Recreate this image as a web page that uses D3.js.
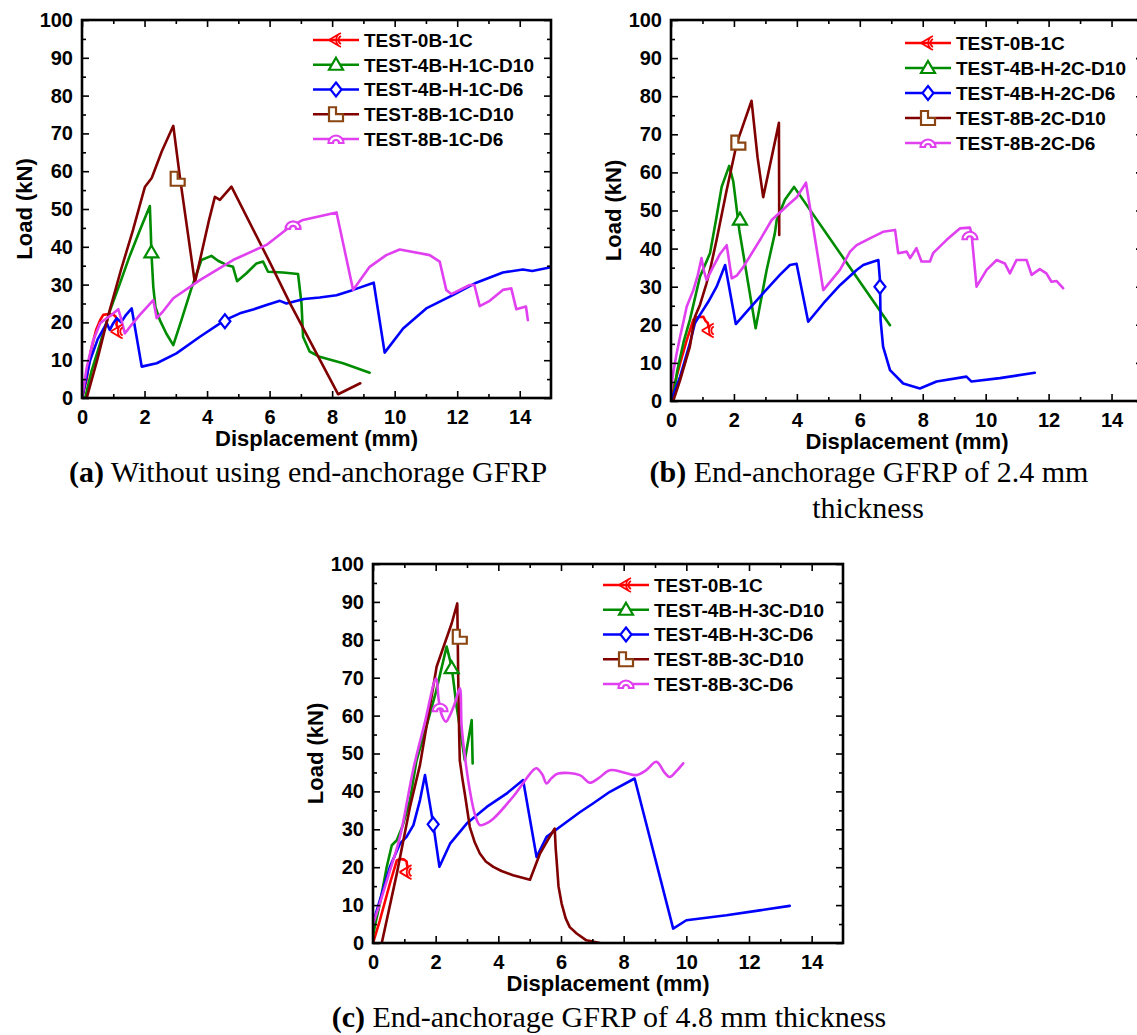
<!DOCTYPE html>
<html><head><meta charset="utf-8">
<script src="https://cdn.jsdelivr.net/npm/d3@7"></script>
<style>
body{margin:0;background:#fff}
svg{display:block}
text.sans{font-family:"Liberation Sans",Arial,sans-serif}
text.serif{font-family:"Liberation Serif","Times New Roman",serif}
</style>
</head><body>
<svg id="chart" width="1137" height="1035"></svg>
<script>
// ---------------- DATA ----------------
const xTicks = [0,2,4,6,8,10,12,14];
const xMinor = [1,3,5,7,9,11,13];
const yTicks = [0,10,20,30,40,50,60,70,80,90,100];
const yMinor = [5,15,25,35,45,55,65,75,85,95];

const namesA = ["TEST-0B-1C","TEST-4B-H-1C-D10","TEST-4B-H-1C-D6","TEST-8B-1C-D10","TEST-8B-1C-D6"];
const namesB = ["TEST-0B-1C","TEST-4B-H-2C-D10","TEST-4B-H-2C-D6","TEST-8B-2C-D10","TEST-8B-2C-D6"];
const namesC = ["TEST-0B-1C","TEST-4B-H-3C-D10","TEST-4B-H-3C-D6","TEST-8B-3C-D10","TEST-8B-3C-D6"];

// Panel (a): [displacement mm, load kN]
const a_0B = [[0,0],[0.15,5],[0.27,12],[0.45,18],[0.58,20.6],[0.68,22],[0.85,22.2],[1.0,22.1],[1.08,21.5],[1.12,20.5],[1.1,19.5],[1.14,18.6]];
const a_4BD10 = [[0.1,0],[0.3,7],[0.6,15],[0.89,23],[1.2,30],[1.5,37],[1.85,44.4],[2.17,50.8],[2.2,44],[2.22,38.5],[2.28,29.4],[2.35,24],[2.49,20.6],[2.7,17],[2.92,14.0],[3.18,20.6],[3.5,29],[3.82,36.5],[4.14,37.6],[4.35,36.3],[4.62,35.2],[4.83,34.7],[4.96,30.9],[5.26,33.0],[5.58,35.6],[5.79,36.1],[5.95,33.4],[6.43,33.2],[6.91,32.8],[7.02,25],[7.07,16.2],[7.28,12.3],[7.6,10.9],[8.35,9.2],[9.2,6.7]];
const a_4BD6 = [[0,0],[0.26,10],[0.5,15.5],[0.79,19.8],[0.89,18],[1.0,19.8],[1.11,21.1],[1.25,20],[1.41,22],[1.59,23.7],[1.75,16],[1.91,8.3],[2.39,9.2],[3.02,11.8],[3.77,16.2],[4.57,20.6],[5.05,22.4],[5.5,23.5],[5.9,24.6],[6.33,25.7],[6.54,25.0],[7.1,26.2],[7.6,26.6],[8.14,27.2],[8.67,28.6],[9.33,30.5],[9.68,12.0],[10.27,18.4],[11.01,23.7],[11.86,27.2],[12.61,30.5],[13.46,33.2],[14.1,34.0],[14.4,33.6],[15.0,34.6]];
const a_8BD10 = [[0.15,0],[0.5,10.5],[0.89,23.3],[1.25,34],[1.63,44.4],[1.85,51],[2.01,55.8],[2.23,58.2],[2.55,65.2],[2.92,72.0],[3.13,58.5],[3.61,30.5],[4.06,47],[4.25,53.2],[4.41,52.4],[4.78,55.9],[6.0,36],[6.65,25.1],[8.19,1.0],[8.9,3.9]];
const a_8BD6 = [[0,0],[0.15,8],[0.35,15],[0.58,19.8],[0.79,21.1],[0.95,22],[1.16,23.5],[1.25,21],[1.37,17.1],[1.6,19.5],[1.85,22],[2.28,25.9],[2.39,21.1],[2.6,23],[2.92,26.4],[3.77,31.2],[4.83,36.5],[5.9,40.5],[6.65,45.3],[7.07,47.1],[8.14,49.1],[8.67,28.6],[9.2,34.7],[9.73,37.8],[10.16,39.3],[11.12,37.8],[11.44,36.1],[11.65,28.6],[11.81,27.5],[12.4,29.9],[12.55,29.9],[12.72,24.3],[13.04,25.7],[13.46,28.6],[13.73,29.0],[13.89,23.5],[14.2,24.2],[14.26,20.6]];
const marksA = [[1.14,17.6],[2.22,38.5],[4.57,20.3],[3.06,58],[6.75,45.8]];

// Panel (b)
const b_0B = [[0,0],[0.1,4],[0.29,9.9],[0.5,16],[0.71,21.3],[0.81,22],[1.03,22.1],[1.1,21],[1.17,20.5],[1.2,19.2]];
const b_4BD10 = [[0.05,0],[0.2,8],[0.4,15.5],[0.6,21.3],[0.92,32.6],[1.24,38.8],[1.43,47.5],[1.61,56.2],[1.85,61.7],[1.98,57.6],[2.17,44.9],[2.69,19.1],[3.04,34.4],[3.3,44],[3.36,47.5],[3.62,52.8],[3.91,56.2],[6.96,19.9]];
const b_4BD6 = [[0,0],[0.29,6.4],[0.6,15.1],[0.76,20.4],[0.92,22.6],[1.19,26.1],[1.45,30],[1.72,35.7],[2.06,20.2],[2.4,23.4],[2.93,28.3],[3.46,33.1],[3.78,35.7],[3.99,36],[4.36,20.8],[4.84,25.6],[5.37,30.4],[5.9,34.4],[6.11,35.7],[6.32,36.3],[6.59,37.0],[6.64,31.8],[6.66,21.3],[6.74,14.3],[6.96,8.1],[7.38,4.6],[7.91,3.3],[8.44,5.1],[9.39,6.4],[9.55,5.1],[10.45,6],[11.56,7.4]];
const b_8BD10 = [[0.07,0],[0.29,5.5],[0.6,14.3],[0.76,22.1],[0.92,25.2],[1.13,30.9],[1.24,34.4],[1.45,42.3],[1.77,55.4],[2.09,67.6],[2.56,78.8],[2.75,64],[2.93,53.5],[3.43,73],[3.44,43.6]];
const b_8BD6 = [[0,3],[0.08,8],[0.18,12.5],[0.29,16.9],[0.4,21],[0.5,24.8],[0.71,29.1],[0.85,33],[0.97,37.5],[1.05,34],[1.13,31.8],[1.34,35.2],[1.55,38.5],[1.77,40.9],[1.93,32.2],[2.1,33],[2.3,35.2],[2.83,42.3],[3.2,47.5],[3.78,51.9],[4.0,53.5],[4.29,57.3],[4.84,29.1],[5.37,34.4],[5.69,39.2],[5.9,40.9],[6.32,42.7],[6.74,44.4],[7.12,44.9],[7.22,38.8],[7.49,39.2],[7.6,37.5],[7.8,40.1],[7.96,36.6],[8.23,36.6],[8.33,38.8],[8.76,42.3],[9.18,45.3],[9.5,45.5],[9.55,44],[9.71,30],[10.03,34.4],[10.35,37.0],[10.61,36.1],[10.77,33.5],[10.98,37.0],[11.3,37.0],[11.46,33.1],[11.72,34.6],[11.93,33.5],[12.09,31.3],[12.25,31.5],[12.46,29.6]];
const marksB = [[1.2,18.5],[2.19,47.6],[6.64,30.0],[2.14,67.8],[9.5,43.5]];

// Panel (c)
const c_0B = [[0,0],[0.22,6],[0.54,15.7],[0.76,21.8],[0.86,22.2],[1.0,22],[1.07,21.5],[1.1,20]];
const c_4BD10 = [[0,2],[0.1,6],[0.22,10.4],[0.44,20.1],[0.6,25.8],[0.76,27.1],[0.95,31],[1.18,37.7],[1.39,48.2],[1.7,57],[2.0,66],[2.35,78.2],[2.51,72.9],[2.67,62.3],[2.93,48.2],[3.15,58.8],[3.18,47.4]];
const c_4BD6 = [[0,5],[0.1,8],[0.22,11.3],[0.54,20.1],[0.86,26.2],[1.07,28],[1.29,31.1],[1.5,37.7],[1.66,44.3],[1.92,31.5],[2.12,20.1],[2.46,26.2],[2.99,31.5],[3.63,35.9],[4.26,39.4],[4.79,43],[5.22,22.7],[5.54,28],[5.96,30.6],[6.6,34.5],[7.02,36.8],[7.56,39.9],[8.35,43.4],[9.58,3.8],[10.0,6.0],[11.28,7.3],[12.34,8.6],[13.3,9.8]];
const c_8BD10 = [[0.28,0],[0.76,18.3],[1.18,35.9],[1.5,47],[2.03,72.9],[2.51,84.3],[2.69,89.6],[2.72,70],[2.75,55],[2.77,48.2],[2.85,43.5],[2.93,39.4],[3.09,30.6],[3.25,26.5],[3.41,23.6],[3.6,21.5],[3.84,20.1],[4.1,19],[4.47,17.9],[5.01,16.7],[5.33,23.6],[5.6,27.5],[5.8,30.2],[5.83,25],[5.86,21.8],[5.92,15],[6.02,10.4],[6.15,6.5],[6.28,4.2],[6.5,2.5],[6.81,0.7],[7.24,0]];
const c_8BD6 = [[0,5],[0.2,10],[0.5,18],[0.86,28],[1.29,46],[1.65,58],[2.01,69.8],[2.1,64],[2.2,60],[2.33,58.4],[2.45,60],[2.61,63.2],[2.77,67.2],[2.83,57],[2.99,45.6],[3.09,40.3],[3.25,34],[3.41,31.1],[3.6,31.5],[3.84,32.8],[4.47,38.6],[5.11,45.6],[5.22,46.1],[5.4,44.5],[5.54,42.1],[5.7,43.5],[5.91,44.7],[6.6,44.3],[6.92,42.3],[7.2,43.5],[7.56,45.6],[8.0,45],[8.41,44.3],[8.7,45.5],[9.05,47.8],[9.3,45],[9.47,43.8],[9.7,45.5],[9.9,47.4]];
const marksC = [[1.07,18.7],[2.51,72.5],[1.92,31.3],[2.77,80.8],[2.14,62.2]];

const captionA = ["(a)"," Without using end-anchorage GFRP"];
const captionB1 = ["(b)"," End-anchorage GFRP of 2.4 mm"];
const captionB2 = "thickness";
const captionC = ["(c)"," End-anchorage GFRP of 4.8 mm thickness"];

// ---------------- STYLE ----------------
const lineColors = ["#FF0000","#008C00","#0000FF","#800000","#E040F0"];
const markColors = ["#FF0000","#008C00","#0000FF","#8B4513","#E040F0"];

const svg = d3.select("#chart");

function markerPath(t){
  switch(t){
    case 0: return "M5,-7 A7.5,7.5 0 0,0 5,7 M5,-4 A4.5,4.5 0 0,0 5,4 M-7,0 L3,-6 M-7,0 L3,6";
    case 1: return "M0,-7 L7,5 L-7,5 Z";
    case 2: return "M0,-7 L5.5,0 L0,7 L-5.5,0 Z";
    case 3: return "M-7,-7 L0,-7 L0,0 L7,0 L7,7 L-7,7 Z";
    case 4: return "M-7.5,4 A7.5,7.5 0 0,1 7.5,4 L3,4 A3,3 0 0,0 -3,4 Z";
  }
}
function drawMarker(g, t, x, y){
  g.append("path").attr("d", markerPath(t))
    .attr("transform", `translate(${x},${y})`)
    .attr("fill", t===0 ? "none" : "#fff")
    .attr("stroke", markColors[t]).attr("stroke-width", t===0?1.8:2.2)
    .attr("stroke-linejoin","miter");
}

function panel(cfg){
  const x = d3.scaleLinear().domain([0,15]).range([cfg.left, cfg.right]);
  const y = d3.scaleLinear().domain([0,100]).range([cfg.bottom, cfg.top]);
  const g = svg.append("g");
  const id = "clip"+cfg.key;
  svg.append("defs").append("clipPath").attr("id", id).append("rect")
    .attr("x", cfg.left).attr("y", cfg.top).attr("width", cfg.right-cfg.left).attr("height", cfg.bottom-cfg.top);

  const dg = g.append("g").attr("clip-path", `url(#${id})`);
  cfg.series.forEach((s,i)=>{
    const line = d3.line().x(d=>x(d[0])).y(d=>y(d[1]))
      .curve(cfg.smooth && cfg.smooth[i] ? d3.curveCatmullRom.alpha(0.5) : d3.curveLinear);
    dg.append("path").datum(s).attr("d", line)
      .attr("fill","none").attr("stroke", lineColors[i]).attr("stroke-width",2.6)
      .attr("stroke-linejoin","round").attr("stroke-linecap","round");
  });
  cfg.marks.forEach((m,i)=> drawMarker(dg, i, x(m[0]), y(m[1])));

  const styleAxis = sel => { sel.select(".domain").remove(); sel.selectAll("line").attr("stroke","#000").attr("stroke-width",1.6); };
  const fontAxis = sel => sel.selectAll("text").attr("class","sans").attr("font-size",20).attr("font-weight","bold").attr("fill","#000");
  g.append("g").attr("transform",`translate(0,${cfg.bottom})`)
    .call(d3.axisBottom(x).tickValues(xTicks).tickSize(-7).tickPadding(12).tickFormat(d3.format("d")))
    .call(styleAxis).call(fontAxis);
  g.append("g").attr("transform",`translate(0,${cfg.bottom})`)
    .call(d3.axisBottom(x).tickValues(xMinor).tickSize(-4).tickFormat(""))
    .call(styleAxis);
  g.append("g").attr("transform",`translate(0,${cfg.top})`)
    .call(d3.axisTop(x).tickValues(xTicks).tickSize(-7).tickFormat(""))
    .call(styleAxis);
  g.append("g").attr("transform",`translate(0,${cfg.top})`)
    .call(d3.axisTop(x).tickValues(xMinor).tickSize(-4).tickFormat(""))
    .call(styleAxis);
  g.append("g").attr("transform",`translate(${cfg.left},0)`)
    .call(d3.axisLeft(y).tickValues(yTicks).tickSize(-7).tickPadding(9).tickFormat(d3.format("d")))
    .call(styleAxis).call(fontAxis);
  g.append("g").attr("transform",`translate(${cfg.left},0)`)
    .call(d3.axisLeft(y).tickValues(yMinor).tickSize(-4).tickFormat(""))
    .call(styleAxis);
  g.append("g").attr("transform",`translate(${cfg.right},0)`)
    .call(d3.axisRight(y).tickValues(yTicks).tickSize(-7).tickFormat(""))
    .call(styleAxis);
  g.append("g").attr("transform",`translate(${cfg.right},0)`)
    .call(d3.axisRight(y).tickValues(yMinor).tickSize(-4).tickFormat(""))
    .call(styleAxis);

  g.append("rect").attr("x",cfg.left).attr("y",cfg.top)
    .attr("width",cfg.right-cfg.left).attr("height",cfg.bottom-cfg.top)
    .attr("fill","none").attr("stroke","#000").attr("stroke-width",2.6);

  g.append("text").attr("class","sans").attr("x",(cfg.left+cfg.right)/2).attr("y",cfg.bottom+48)
    .attr("text-anchor","middle").attr("font-size",22).attr("font-weight","bold").text("Displacement (mm)");
  g.append("text").attr("class","sans").attr("transform",`translate(${cfg.left-50},${(cfg.top+cfg.bottom)/2}) rotate(-90)`)
    .attr("text-anchor","middle").attr("font-size",22).attr("font-weight","bold").text("Load (kN)");

  cfg.names.forEach((n,i)=>{
    const ly = cfg.legY + i*cfg.legStep;
    g.append("line").attr("x1",cfg.legX).attr("x2",cfg.legX+46).attr("y1",ly).attr("y2",ly)
      .attr("stroke",lineColors[i]).attr("stroke-width",2.6);
    drawMarker(g, i, cfg.legX+23, ly);
    g.append("text").attr("class","sans").attr("x",cfg.legX+51).attr("y",ly).attr("dy","0.36em")
      .attr("font-size",19).attr("font-weight","bold").text(n);
  });
}

panel({key:"a", left:82, right:551, top:20, bottom:398,
  series:[a_0B,a_4BD10,a_4BD6,a_8BD10,a_8BD6], marks:marksA, names:namesA,
  legX:313, legY:40, legStep:24.75});
panel({key:"b", left:671, right:1143, top:20, bottom:401,
  series:[b_0B,b_4BD10,b_4BD6,b_8BD10,b_8BD6], marks:marksB, names:namesB,
  legX:905, legY:43, legStep:25});
panel({key:"c", left:373, right:843, top:564, bottom:943,
  series:[c_0B,c_4BD10,c_4BD6,c_8BD10,c_8BD6], marks:marksC, names:namesC,
  legX:603, legY:585, legStep:24.75, smooth:[false,false,false,false,true]});

function caption(parts, cx, by){
  const t = svg.append("text").attr("class","serif").attr("x",cx).attr("y",by).attr("text-anchor","middle")
    .attr("font-size",30).attr("fill","#000");
  t.append("tspan").attr("font-weight","bold").text(parts[0]);
  t.append("tspan").text(parts[1]);
}
caption(captionA, 308, 482);
caption(captionB1, 869, 482);
svg.append("text").attr("class","serif").attr("x",868).attr("y",518).attr("text-anchor","middle")
  .attr("font-size",30).text(captionB2);
caption(captionC, 609, 1027);
</script>
</body></html>
